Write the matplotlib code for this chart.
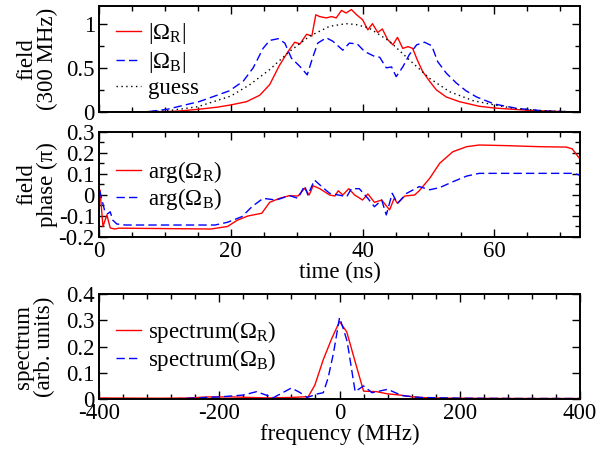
import matplotlib
matplotlib.use('Agg')
import matplotlib.pyplot as plt
from matplotlib.ticker import MultipleLocator

plt.rcParams.update({
    'font.family': ['Liberation Serif', 'DejaVu Serif'],
    'mathtext.fontset': 'custom',
    'mathtext.rm': 'Liberation Serif',
    'mathtext.it': 'Liberation Serif:italic',
    'font.size': 16.5,
})

# ---------------- data: top panel (field amplitude) ----------------
t_ampR = [0, 5, 10, 12, 15, 18, 20, 22.4, 24.4, 25.9, 27.4, 28.7, 29.7, 30.5, 31.5, 32.3,
          32.9, 33.5, 34.5, 35.3, 36.0, 36.8, 37.5, 38.3, 39.1, 40.0, 40.8, 41.5, 42.3,
          43.0, 43.8, 44.6, 45.3, 46.1, 46.9, 47.6, 48.3, 49.1, 50.2, 51.2, 52.7, 54.7,
          57.7, 60, 65, 70, 73]
ampR = [0, 0.0, 0.005, 0.01, 0.03, 0.055, 0.08, 0.117, 0.19, 0.31, 0.53, 0.685, 0.79, 0.77,
        0.88, 0.86, 1.10, 1.08, 1.065, 1.08, 1.065, 1.15, 1.12, 1.16, 1.10, 1.045, 0.93, 1.0,
        0.9, 0.94, 0.82, 0.76, 0.845, 0.72, 0.74, 0.72, 0.59, 0.46, 0.345, 0.25, 0.17, 0.117,
        0.065, 0.045, 0.02, 0.005, 0.0]

t_ampB = [0, 7, 10.3, 15.3, 19.8, 21.9, 23.4, 24.9, 25.9, 27.2, 28.2, 29.2, 30.5, 31.6,
          32.4, 33.2, 34.5, 35.5, 37.0, 38.0, 39.2, 40.3, 41.8, 42.6, 43.6, 44.4, 45.1,
          46.1, 47.1, 48.2, 49.4, 50.5, 51.4, 52.7, 54.2, 55.7, 57.3, 60, 63.5, 68, 73]
ampB = [0, 0.0, 0.03, 0.12, 0.24, 0.35, 0.50, 0.72, 0.81, 0.83, 0.78, 0.61, 0.515, 0.42,
        0.61, 0.78, 0.84, 0.80, 0.70, 0.78, 0.77, 0.685, 0.63, 0.62, 0.50, 0.51, 0.40,
        0.51, 0.65, 0.76, 0.79, 0.75, 0.57, 0.44, 0.33, 0.24, 0.17, 0.09, 0.04, 0.01, 0.0]

t_guess = [0, 5, 10, 15, 20, 22.9, 25.9, 28.9, 32, 35, 37.5, 39, 41, 44.1, 47.1, 50.2,
           53.2, 56.7, 60, 63, 67, 73]
guess = [0, 0.0, 0.01, 0.06, 0.18, 0.31, 0.48, 0.685, 0.86, 0.97, 1.0, 0.99, 0.95, 0.80,
         0.59, 0.38, 0.23, 0.13, 0.08, 0.04, 0.015, 0.0]

# ---------------- data: middle panel (phase) ----------------
t_phR = [0, 0.15, 0.6, 1.2, 1.7, 2.4, 3, 10, 17, 19.5, 21, 22.6, 24.7, 25.9, 27.4, 28.9,
         30.2, 31.2, 31.9, 32.5, 33.5, 35, 35.8, 36.3, 37, 37.9, 38.8, 40, 40.8, 41.8,
         42.9, 44.1, 44.8, 45.3, 46.4, 47.9, 48.6, 50.2, 51.7, 53.7, 55.8, 57.7, 61.8,
         66.8, 70.9, 71.8, 72.9]
phR = [0.02, 0.024, -0.15, -0.095, -0.157, -0.162, -0.158, -0.16, -0.162, -0.15, -0.12,
       -0.10, -0.087, -0.035, -0.016, -0.003, -0.005, 0.032, 0.0, 0.044, 0.03, 0.0, -0.005,
       0.02, 0.0, 0.03, 0.0, -0.024, 0.005, -0.035, -0.024, -0.071, -0.016, -0.04, -0.005,
       0.0, 0.02, 0.08, 0.151, 0.206, 0.23, 0.238, 0.235, 0.23, 0.228, 0.22, 0.175]

t_phB = [0, 0.15, 0.5, 0.9, 1.3, 1.7, 2.1, 2.7, 4, 17.6, 19.5, 21.7, 23.2, 24.9, 26.9,
         28.9, 30.2, 31.2, 31.7, 32.7, 33.8, 35, 36.3, 37.6, 38.3, 39.5, 40.8, 41.8, 42.9,
         43.6, 44.5, 45.3, 46.7, 48.6, 50.2, 51.7, 53.7, 55.8, 57.7, 72, 72.9]
phB = [0.01, 0.016, -0.03, -0.08, -0.09, -0.08, -0.12, -0.138, -0.143, -0.143, -0.13,
       -0.103, -0.056, -0.016, -0.024, -0.003, -0.016, 0.044, 0.0, 0.071, 0.04, 0.008, 0.0,
       -0.008, 0.03, 0.03, -0.016, -0.056, -0.024, -0.095, 0.008, -0.04, 0.008, 0.04,
       0.025, 0.035, 0.063, 0.09, 0.103, 0.103, 0.095]

# ---------------- data: bottom panel (spectrum) ----------------
f_specR = [-400, -300, -250, -220, -180, -150, -120, -80, -52, -41, -27, -13, 0, 12, 26,
           40, 62, 79, 101, 122, 150, 200, 300, 400]
specR = [0.004, 0.003, 0.004, 0.008, 0.008, 0.006, 0.004, 0.006, 0.009, 0.053, 0.15, 0.23,
         0.295, 0.256, 0.142, 0.03, 0.028, 0.02, 0.015, 0.008, 0.004, 0.003, 0.002, 0.002]

f_specB = [-400, -290, -260, -200, -160, -138, -110, -80, -66, -54, -36, -27, -19, -10, 0,
           6, 12, 15, 26, 40, 54, 80, 104, 134, 200, 300, 400]
specB = [0.0, 0.0, 0.002, 0.008, 0.015, 0.028, 0.005, 0.042, 0.025, 0.006, 0.02, 0.024,
         0.08, 0.175, 0.31, 0.27, 0.225, 0.187, 0.028, 0.05, 0.024, 0.037, 0.013, 0.006,
         0.003, 0.002, 0.002]

RED = '#ff0000'
BLUE = '#0000ff'
LW = 1.0
DASH = (6, 3)

fig = plt.figure(figsize=(6, 4.54), dpi=100)
ax1 = fig.add_axes([0.165, 0.7533, 0.8017, 0.2335])
ax2 = fig.add_axes([0.165, 0.478, 0.8017, 0.2313])
ax3 = fig.add_axes([0.165, 0.1211, 0.8017, 0.2313])


def style(ax):
    for s in ax.spines.values():
        s.set_linewidth(1.4)
    ax.tick_params(which='both', direction='in', top=True, right=True, width=1.0, pad=3)
    ax.tick_params(which='major', length=6)
    ax.tick_params(which='minor', length=3.5)


# top
ax1.plot(t_ampR, ampR, color=RED, lw=LW, label='|Ω$_\\mathrm{R}$|')
ax1.plot(t_ampB, ampB, color=BLUE, lw=LW, dashes=DASH, label='|Ω$_\\mathrm{B}$|')
ax1.plot(t_guess, guess, color='black', lw=LW, linestyle=(0, (1, 2.5)), label='guess')
ax1.set_xlim(0, 73)
ax1.set_ylim(0, 1.2)
ax1.xaxis.set_major_locator(MultipleLocator(20))
ax1.xaxis.set_minor_locator(MultipleLocator(5))
ax1.yaxis.set_major_locator(MultipleLocator(0.5))
ax1.yaxis.set_minor_locator(MultipleLocator(0.25))
ax1.set_yticks([0, 0.5, 1])
ax1.set_yticklabels(['0', '0.5', '1'])
ax1.tick_params(labelbottom=False)
ax1.set_ylabel('field\n(300 MHz)', linespacing=1.0)
ax1.yaxis.set_label_coords(-0.085, 0.5)
style(ax1)
ax1.legend(loc='center left', bbox_to_anchor=(0.035, 0.49), frameon=False,
           borderpad=0, borderaxespad=0, handlelength=1.1, handletextpad=0.3,
           labelspacing=0.15)

# middle
ax2.plot(t_phR, phR, color=RED, lw=LW, label='arg(Ω$_\\mathrm{R}$)')
ax2.plot(t_phB, phB, color=BLUE, lw=LW, dashes=DASH, label='arg(Ω$_\\mathrm{B}$)')
ax2.set_xlim(0, 73)
ax2.set_ylim(-0.2, 0.3)
ax2.xaxis.set_major_locator(MultipleLocator(20))
ax2.xaxis.set_minor_locator(MultipleLocator(5))
ax2.yaxis.set_major_locator(MultipleLocator(0.1))
ax2.yaxis.set_minor_locator(MultipleLocator(0.05))
ax2.set_yticks([-0.2, -0.1, 0, 0.1, 0.2, 0.3])
ax2.set_yticklabels(['-0.2', '-0.1', '0', '0.1', '0.2', '0.3'])
ax2.set_xticks([0, 20, 40, 60])
ax2.set_xticklabels(['0', '20', '40', '60'])
ax2.set_xlabel('time (ns)', labelpad=0)
ax2.set_ylabel('field\nphase (π)', linespacing=1.0)
ax2.yaxis.set_label_coords(-0.085, 0.5)
style(ax2)
ax2.legend(loc='center left', bbox_to_anchor=(0.035, 0.49), frameon=False,
           borderpad=0, borderaxespad=0, handlelength=1.1, handletextpad=0.3,
           labelspacing=0.05)

# bottom
ax3.plot(f_specR, specR, color=RED, lw=LW, label='spectrum(Ω$_\\mathrm{R}$)')
ax3.plot(f_specB, specB, color=BLUE, lw=LW, dashes=DASH, label='spectrum(Ω$_\\mathrm{B}$)')
ax3.set_xlim(-400, 400)
ax3.set_ylim(0, 0.4)
ax3.xaxis.set_major_locator(MultipleLocator(200))
ax3.xaxis.set_minor_locator(MultipleLocator(40))
ax3.yaxis.set_major_locator(MultipleLocator(0.1))
ax3.set_yticks([0, 0.1, 0.2, 0.3, 0.4])
ax3.set_yticklabels(['0', '0.1', '0.2', '0.3', '0.4'])
ax3.set_xticks([-400, -200, 0, 200, 400])
ax3.set_xticklabels(['-400', '-200', '0', '200', '400'])
ax3.set_xlabel('frequency (MHz)', labelpad=0)
ax3.set_ylabel('spectrum\n(arb. units)', linespacing=1.0)
ax3.yaxis.set_label_coords(-0.092, 0.5)
style(ax3)
ax3.legend(loc='center left', bbox_to_anchor=(0.035, 0.505), frameon=False,
           borderpad=0, borderaxespad=0, handlelength=1.1, handletextpad=0.3,
           labelspacing=0.05)

fig.savefig('out.png', dpi=100)
